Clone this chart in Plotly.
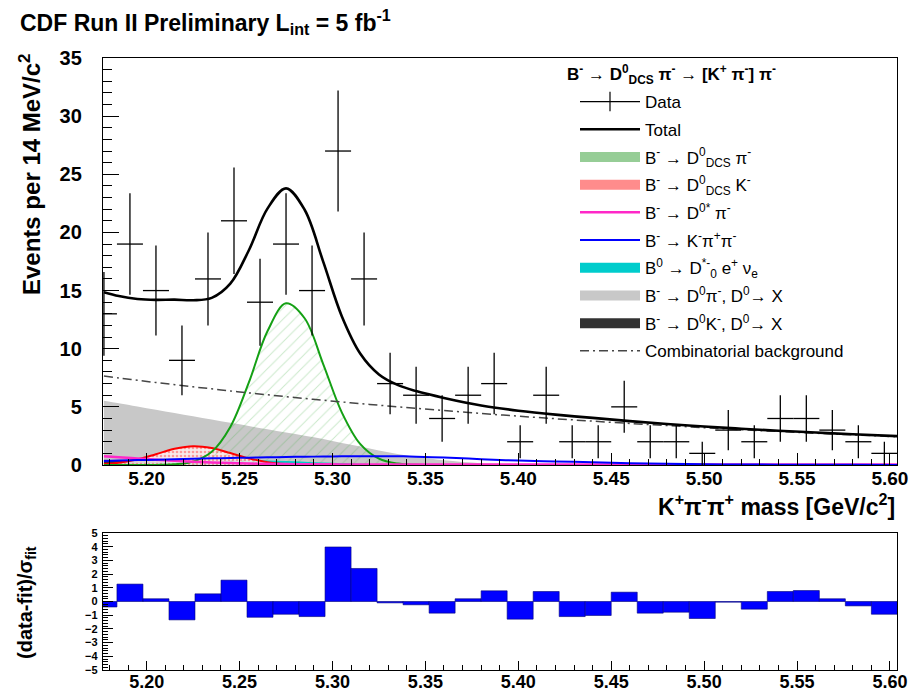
import plotly.graph_objects as go
import numpy as np

# ---------------- data ----------------
mass_bins = [5.177, 5.191, 5.205, 5.219, 5.233, 5.247, 5.261, 5.275, 5.289, 5.303,
             5.317, 5.331, 5.345, 5.359, 5.373, 5.387, 5.401, 5.415, 5.429, 5.443,
             5.457, 5.471, 5.485, 5.499, 5.513, 5.527, 5.541, 5.555, 5.569, 5.583, 5.597]
events = [13, 19, 15, 9, 16, 21, 14, 19, 15, 27, 16, 7, 6, 4, 6, 7, 2, 6, 2, 2,
          5, 2, 2, 1, 3, 2, 4, 4, 3, 2, 1]
residuals = [-0.4, 1.27, 0.2, -1.34, 0.56, 1.56, -1.15, -0.93, -1.1, 3.98, 2.41, -0.1,
             -0.24, -0.85, 0.2, 0.78, -1.29, 0.73, -1.1, -1.02, 0.68, -0.85, -0.78,
             -1.24, -0.05, -0.56, 0.73, 0.8, 0.2, -0.32, -0.93]
bin_half_width = 0.007

curve_mass = [5.177, 5.185, 5.195, 5.205, 5.215, 5.225, 5.235, 5.245, 5.255, 5.265,
              5.275, 5.285, 5.295, 5.305, 5.315, 5.325, 5.335, 5.345, 5.36, 5.38,
              5.40, 5.42, 5.44, 5.46, 5.48, 5.50, 5.52, 5.54, 5.56, 5.58, 5.604]
total = [14.86, 14.53, 14.28, 14.20, 14.22, 14.17, 14.37, 15.59, 18.47, 22.05,
         23.79, 21.95, 17.49, 12.80, 9.57, 7.79, 6.89, 6.36, 5.77, 5.12,
         4.67, 4.33, 4.05, 3.77, 3.53, 3.31, 3.12, 2.95, 2.79, 2.65, 2.48]
comb_bkg = [7.65, 7.49, 7.29, 7.09, 6.91, 6.72, 6.55, 6.37, 6.20, 6.04,
            5.88, 5.72, 5.57, 5.42, 5.28, 5.14, 5.00, 4.87, 4.68, 4.43,
            4.20, 3.98, 3.77, 3.57, 3.39, 3.21, 3.04, 2.88, 2.73, 2.59, 2.43]
d0pi_x = [5.53, 5.31, 5.03, 4.75, 4.47, 4.19, 3.91, 3.63, 3.35, 3.07,
          2.79, 2.51, 2.23, 1.90, 1.60, 1.25, 0.95, 0.70, 0.40, 0.15,
          0.05, 0, 0, 0, 0, 0, 0, 0, 0, 0, 0]
dcs_pi = [0, 0, 0, 0.01, 0.06, 0.29, 1.13, 3.27, 7.10, 11.50,
          13.90, 12.62, 8.68, 4.53, 1.79, 0.54, 0.12, 0.02, 0, 0,
          0, 0, 0, 0, 0, 0, 0, 0, 0, 0, 0]
dcs_k = [0.08, 0.20, 0.49, 0.93, 1.39, 1.62, 1.46, 1.03, 0.57, 0.24,
         0.08, 0.02, 0, 0, 0, 0, 0, 0, 0, 0,
         0, 0, 0, 0, 0, 0, 0, 0, 0, 0, 0]
d0star_pi = [0.75, 0.66, 0.56, 0.46, 0.37, 0.29, 0.22, 0.17, 0.13, 0.10,
             0.08, 0.07, 0.06, 0.05, 0.04, 0.04, 0.04, 0.04, 0.04, 0.04,
             0.04, 0.04, 0.04, 0.04, 0.04, 0.04, 0.04, 0.04, 0.04, 0.04, 0.04]
kpipi = [0.35, 0.38, 0.42, 0.46, 0.50, 0.53, 0.57, 0.60, 0.63, 0.66,
         0.69, 0.71, 0.73, 0.75, 0.76, 0.76, 0.75, 0.72, 0.65, 0.50,
         0.38, 0.31, 0.24, 0.16, 0.10, 0.06, 0.04, 0.03, 0.02, 0.02, 0.01]
semilep = [0.05, 0.08, 0.13, 0.19, 0.26, 0.32, 0.37, 0.40, 0.41, 0.39,
           0.34, 0.28, 0.21, 0.15, 0.10, 0.06, 0.03, 0.01, 0, 0,
           0, 0, 0, 0, 0, 0, 0, 0, 0, 0, 0]
d0k_x = [0.45, 0.41, 0.36, 0.31, 0.26, 0.21, 0.16, 0.12, 0.08, 0.05,
         0.03, 0.02, 0.01, 0, 0, 0, 0, 0, 0, 0,
         0, 0, 0, 0, 0, 0, 0, 0, 0, 0, 0]

x_tick_vals = [5.20, 5.25, 5.30, 5.35, 5.40, 5.45, 5.50, 5.55, 5.60]
x_tick_text = ["5.20", "5.25", "5.30", "5.35", "5.40", "5.45", "5.50", "5.55", "5.60"]

# ---------------- styles ----------------
FONT = "Liberation Sans"
W, H = 909, 688
xdom = [103 / W, 897 / W]
ydom_main = [(H - 465) / H, (H - 58) / H]
ydom_res = [(H - 670) / H, (H - 533) / H]
XR = [5.1765, 5.6038]

GRAY = "rgb(200,200,200)"
DARK = "rgb(50,50,50)"
CYAN = "rgb(0,204,204)"
GREEN = "rgb(20,160,20)"
RED = "rgb(255,0,0)"
MAGENTA = "rgb(255,40,200)"
BLUE = "rgb(0,0,255)"
green_pat = dict(shape="/", fgcolor="rgba(60,170,60,0.55)", bgcolor="rgba(255,255,255,0)",
                 size=8, solidity=0.12)
red_pat = dict(shape=".", fgcolor="rgba(255,60,60,0.9)", bgcolor="rgba(255,240,240,0.85)",
               size=4, solidity=0.35)

N_GREEN = "B<sup>-</sup> → D<sup>0</sup><sub>DCS</sub> π<sup>-</sup>"
N_RED = "B<sup>-</sup> → D<sup>0</sup><sub>DCS</sub> K<sup>-</sup>"
N_MAG = "B<sup>-</sup> → D<sup>0*</sup> π<sup>-</sup>"
N_BLUE = "B<sup>-</sup> → K<sup>-</sup>π<sup>+</sup>π<sup>-</sup>"
N_CYAN = "B<sup>0</sup> → D<sup>*-</sup><sub>0</sub> e<sup>+</sup> ν<sub>e</sub>"
N_GRAY = "B<sup>-</sup> → D<sup>0</sup>π<sup>-</sup>, D<sup>0</sup>→ X"
N_DARK = "B<sup>-</sup> → D<sup>0</sup>K<sup>-</sup>, D<sup>0</sup>→ X"
N_COMB = "Combinatorial background"

fig = go.Figure()

def comp(y, name, rank, legend=True, **kw):
    fig.add_trace(go.Scatter(x=curve_mass, y=y, name=name, legendrank=rank,
                             legendgroup=name, showlegend=legend, xaxis="x", yaxis="y",
                             hoverinfo="skip", **kw))

def legend_swatch(name, rank, color):
    fig.add_trace(go.Scatter(x=[None], y=[None], name=name, legendrank=rank,
                             legendgroup=name, mode="lines", line=dict(width=10, color=color),
                             xaxis="x", yaxis="y", hoverinfo="skip"))

comp(d0pi_x, N_GRAY, 8, legend=False,
     mode="lines", line=dict(width=0, color=GRAY, shape="spline"),
     fill="tozeroy", fillcolor=GRAY)
comp(d0k_x, N_DARK, 9, legend=False,
     mode="lines", line=dict(width=0, color=DARK, shape="spline"),
     fill="tozeroy", fillcolor=DARK)
comp(semilep, N_CYAN, 7, legend=False,
     mode="lines", line=dict(width=0, color=CYAN, shape="spline"),
     fill="tozeroy", fillcolor=CYAN)
comp(dcs_k, N_RED, 4, legend=False,
     mode="lines", line=dict(width=2, color=RED, shape="spline"),
     fill="tozeroy", fillpattern=red_pat)
comp(dcs_pi, N_GREEN, 3, legend=False,
     mode="lines", line=dict(width=2, color=GREEN, shape="spline"),
     fill="tozeroy", fillpattern=green_pat)
comp(d0star_pi, N_MAG, 5,
     mode="lines", line=dict(width=2.5, color=MAGENTA, shape="spline"))
comp(kpipi, N_BLUE, 6,
     mode="lines", line=dict(width=2, color=BLUE, shape="spline"))
comp(comb_bkg, N_COMB, 10,
     mode="lines", line=dict(width=1.5, color="rgb(70,70,70)", dash="9px,4px,2px,4px",
                             shape="spline"))
comp(total, "Total", 2,
     mode="lines", line=dict(width=2.6, color="black", shape="spline"))

# legend swatches for the filled components
legend_swatch(N_GREEN, 3, "rgb(150,205,150)")
legend_swatch(N_RED, 4, "rgb(255,140,140)")
legend_swatch(N_CYAN, 7, CYAN)
legend_swatch(N_GRAY, 8, GRAY)
legend_swatch(N_DARK, 9, DARK)

# data points with error bars
fig.add_trace(go.Scatter(
    x=mass_bins, y=events, mode="markers", showlegend=False,
    marker=dict(size=0.1, color="black"),
    error_y=dict(type="data", array=np.sqrt(events), width=0, thickness=1.3, color="black"),
    error_x=dict(type="constant", value=bin_half_width, width=0, thickness=1.3, color="black"),
    xaxis="x", yaxis="y", hoverinfo="skip"))
fig.add_trace(go.Scatter(
    x=[None], y=[None], mode="lines+markers", name="Data", legendrank=1, legendgroup="Data",
    line=dict(color="black", width=1.2),
    marker=dict(symbol="line-ns", size=14, line=dict(width=1.2, color="black"), color="black"),
    xaxis="x", yaxis="y"))

# residual panel
fig.add_trace(go.Bar(
    x=mass_bins, y=residuals, width=2 * bin_half_width, showlegend=False,
    marker=dict(color=BLUE, line=dict(width=0.6, color="rgb(0,0,120)")),
    xaxis="x2", yaxis="y2", hoverinfo="skip"))

axis_common = dict(showline=True, linecolor="black", linewidth=1.2, mirror=True,
                   showgrid=False, zeroline=False, ticks="inside", tickcolor="black",
                   automargin=False, ticklabeloverflow="allow")

fig.update_layout(
    width=W, height=H, margin=dict(l=0, r=0, t=0, b=0, autoexpand=False),
    paper_bgcolor="white", plot_bgcolor="white",
    font=dict(family=FONT, color="black"),
    bargap=0,
    xaxis=dict(domain=xdom, range=XR, anchor="y", tickvals=x_tick_vals, ticktext=x_tick_text,
               ticklen=12, tickwidth=1,
               minor=dict(dtick=0.01, tick0=5.2, ticklen=6, ticks="inside", tickcolor="black"),
               tickfont=dict(size=19, weight="bold"), ticklabelstandoff=-4, **axis_common),
    yaxis=dict(domain=ydom_main, range=[0, 35], anchor="x", dtick=5, ticklen=16,
               minor=dict(dtick=1, ticklen=9, ticks="inside", tickcolor="black"),
               tickfont=dict(size=20, weight="bold"), ticklabelstandoff=16, **axis_common),
    xaxis2=dict(domain=xdom, range=XR, anchor="y2", tickvals=x_tick_vals, ticktext=x_tick_text,
                ticklen=9,
                minor=dict(dtick=0.01, tick0=5.2, ticklen=5, ticks="inside", tickcolor="black"),
                tickfont=dict(size=18, weight="bold"), ticklabelstandoff=-5, **axis_common),
    yaxis2=dict(domain=ydom_res, range=[-5, 5], anchor="x2", dtick=1, ticklen=10,
                minor=dict(dtick=0.2, ticklen=5, ticks="inside", tickcolor="black"),
                tickfont=dict(size=11, weight="bold"), ticklabelstandoff=2, **axis_common),
    legend=dict(x=575 / W, y=1 - 84 / H, xanchor="left", yanchor="top",
                bgcolor="rgba(255,255,255,0)", traceorder="grouped", tracegroupgap=2.6,
                itemwidth=60, font=dict(family=FONT, size=17, color="black")),
    annotations=[
        dict(text="CDF Run II Preliminary L<sub>int</sub> = 5 fb<sup>-1</sup>",
             x=18 / W, y=1 - 22 / H, xref="paper", yref="paper", xanchor="left",
             yanchor="middle", showarrow=False, font=dict(size=23, weight="bold")),
        dict(text="B<sup>-</sup> → D<sup>0</sup><sub>DCS</sub> π<sup>-</sup> → "
                  "[K<sup>+</sup> π<sup>-</sup>] π<sup>-</sup>",
             x=565 / W, y=1 - 75 / H, xref="paper", yref="paper", xanchor="left",
             yanchor="middle", showarrow=False, font=dict(size=17, weight="bold")),
        dict(text="Events per 14 MeV/c<sup>2</sup>", textangle=-90,
             x=30 / W, y=1 - 175 / H, xref="paper", yref="paper", xanchor="center",
             yanchor="middle", showarrow=False, font=dict(size=24, weight="bold")),
        dict(text="K<sup>+</sup>π<sup>-</sup>π<sup>+</sup> mass [GeV/c<sup>2</sup>]",
             x=897 / W, y=1 - 505 / H, xref="paper", yref="paper", xanchor="right",
             yanchor="middle", showarrow=False, font=dict(size=23, weight="bold")),
        dict(text="(data-fit)/σ<sub>fit</sub>", textangle=-90,
             x=26 / W, y=1 - 603 / H, xref="paper", yref="paper", xanchor="center",
             yanchor="middle", showarrow=False, font=dict(size=20, weight="bold")),
    ],
)

fig.write_html("out.html", config={"displayModeBar": False, "staticPlot": True},
               post_script="document.body.style.margin='0px';")
